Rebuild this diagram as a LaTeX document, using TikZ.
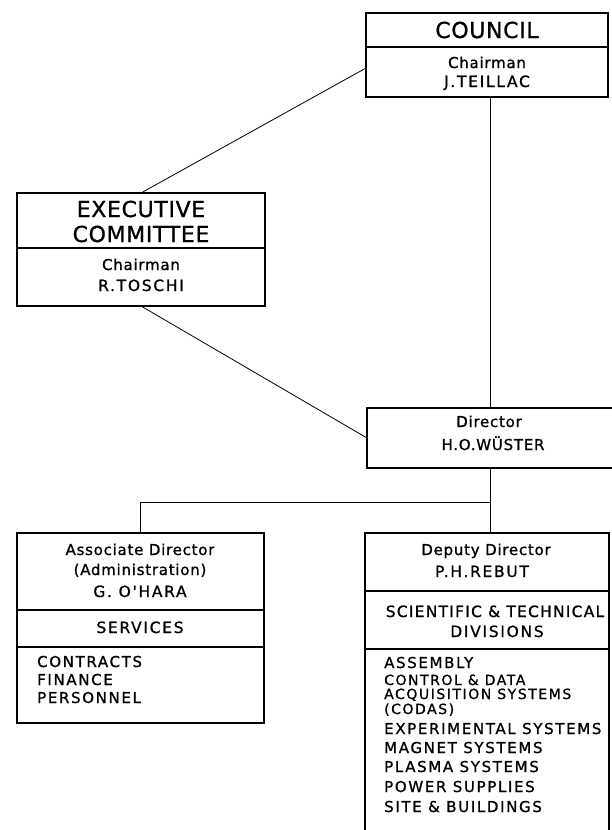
\documentclass[tikz,border=0pt]{standalone}
\usepackage{fontspec}
\setmainfont{DejaVu Sans}
\newfontfamily\bigf[LetterSpace=3,FakeBold=1]{DejaVu Sans}
\newfontfamily\lowf[LetterSpace=5,FakeBold=1]{DejaVu Sans}
\newfontfamily\capf[LetterSpace=11,FakeBold=1]{DejaVu Sans}
\newfontfamily\midf[LetterSpace=8,FakeBold=1]{DejaVu Sans}
\newfontfamily\listf[LetterSpace=11,FakeBold=1]{DejaVu Sans}
\begin{document}
\begin{tikzpicture}[x=1pt,y=-1pt,
  boxline/.style={line width=1.4pt,black},
  box/.style={draw,boxline,inner sep=0pt,outer sep=0pt},
  openbox/.style={inner sep=0pt,outer sep=0pt},
  divider/.style={line width=1.1pt,black},
  conn/.style={line width=0.8pt,black},
  bigtxt/.style={inner sep=0pt,anchor=base,font=\bigf\fontsize{22}{24}\selectfont},
  lowtxt/.style={inner sep=0pt,anchor=base,font=\lowf\fontsize{15}{18}\selectfont},
  captxt/.style={inner sep=0pt,anchor=base,font=\capf\fontsize{15.5}{18}\selectfont},
  midtxt/.style={inner sep=0pt,anchor=base,font=\midf\fontsize{15.5}{18}\selectfont},
  listtxt/.style={inner sep=0pt,anchor=base west,font=\listf\fontsize{15}{16}\selectfont},
  tighttxt/.style={inner sep=0pt,anchor=base west,font=\listf\fontsize{14}{15}\selectfont}]
\useasboundingbox (0,0) rectangle (611,830);
\fill[white] (0,0) rectangle (611,830);

% boxes
\node[box,minimum width=242pt,minimum height=84pt] (council) at (487,55) {};
\node[box,minimum width=248pt,minimum height=113pt] (exec) at (141,249.5) {};
\node[openbox,minimum width=246pt,minimum height=60pt] (director) at (490,438) {};
\node[box,minimum width=247pt,minimum height=190pt] (assoc) at (140.5,628) {};
\node[openbox,minimum width=244pt,minimum height=297pt] (deputy) at (487,681.5) {};

\draw[boxline] (director.north east) -- (director.north west) -- (director.south west) -- (director.south east);
\draw[boxline] (deputy.south west) |- (deputy.north east) -- (deputy.south east);

% dividers
\draw[divider] (council.west |- 0,47) -- (council.east |- 0,47);
\draw[divider] (exec.west |- 0,248) -- (exec.east |- 0,248);
\draw[divider] (assoc.west |- 0,610) -- (assoc.east |- 0,610);
\draw[divider] (assoc.west |- 0,647) -- (assoc.east |- 0,647);
\draw[divider] (deputy.west |- 0,591) -- (deputy.east |- 0,591);
\draw[divider] (deputy.west |- 0,649) -- (deputy.east |- 0,649);

% connectors
\coordinate (j) at (490,502);
\draw[conn] ([yshift=-13pt]council.west) -- (exec.north);
\draw[conn] (exec.south) -- (director.west);
\draw[conn] (council.south -| j) -- (director.north -| j);
\draw[conn] (director.south -| j) -- (j) -| (assoc.north);
\draw[conn] (j) -- (deputy.north -| j);

% council texts
\node[bigtxt] (t1) at (487,38) {COUNCIL};
\node[lowtxt] (t2) at (487,68) {Chairman};
\node[captxt] (t3) at (487,87) {J.TEILLAC};
% executive committee
\node[bigtxt] (t4) at (141,217) {EXECUTIVE};
\node[bigtxt] (t5) at (141,242) {COMMITTEE};
\node[lowtxt] (t6) at (141,270) {Chairman};
\node[captxt] (t7) at (141,291) {R.TOSCHI};
% director
\node[lowtxt] (t8) at (489,427) {Director};
\node[lowtxt] (t9) at (493,450) {H.O.W\"USTER};
% associate director
\node[lowtxt] (t10) at (140,555) {Associate Director};
\node[lowtxt] (t11) at (140,575) {(Administration)};
\node[captxt] (t12) at (140,597) {G. O'HARA};
\node[captxt] (t13) at (140,633) {SERVICES};
\node[listtxt] (t14) at (37,667) {CONTRACTS};
\node[listtxt] (t15) at (37,685) {FINANCE};
\node[listtxt] (t16) at (37,703) {PERSONNEL};
% deputy director
\node[lowtxt] (t17) at (486,555) {Deputy Director};
\node[captxt] (t18) at (482,577) {P.H.REBUT};
\node[midtxt] (t19) at (495,617) {SCIENTIFIC \& TECHNICAL};
\node[captxt] (t20) at (497,637) {DIVISIONS};
\node[listtxt] (dl1) at (384,668) {ASSEMBLY};
\node[tighttxt] (dl2) at (384,685) {CONTROL \& DATA};
\node[tighttxt] (dl3) at (384,699) {ACQUISITION SYSTEMS};
\node[tighttxt] (dl4) at (384,714) {(CODAS)};
\foreach \t/\y [count=\i from 5] in {EXPERIMENTAL SYSTEMS/734,MAGNET SYSTEMS/753,PLASMA SYSTEMS/772,POWER SUPPLIES/792,SITE \& BUILDINGS/812}
  \node[listtxt] (dl\i) at (384,\y) {\t};
\end{tikzpicture}
\end{document}
